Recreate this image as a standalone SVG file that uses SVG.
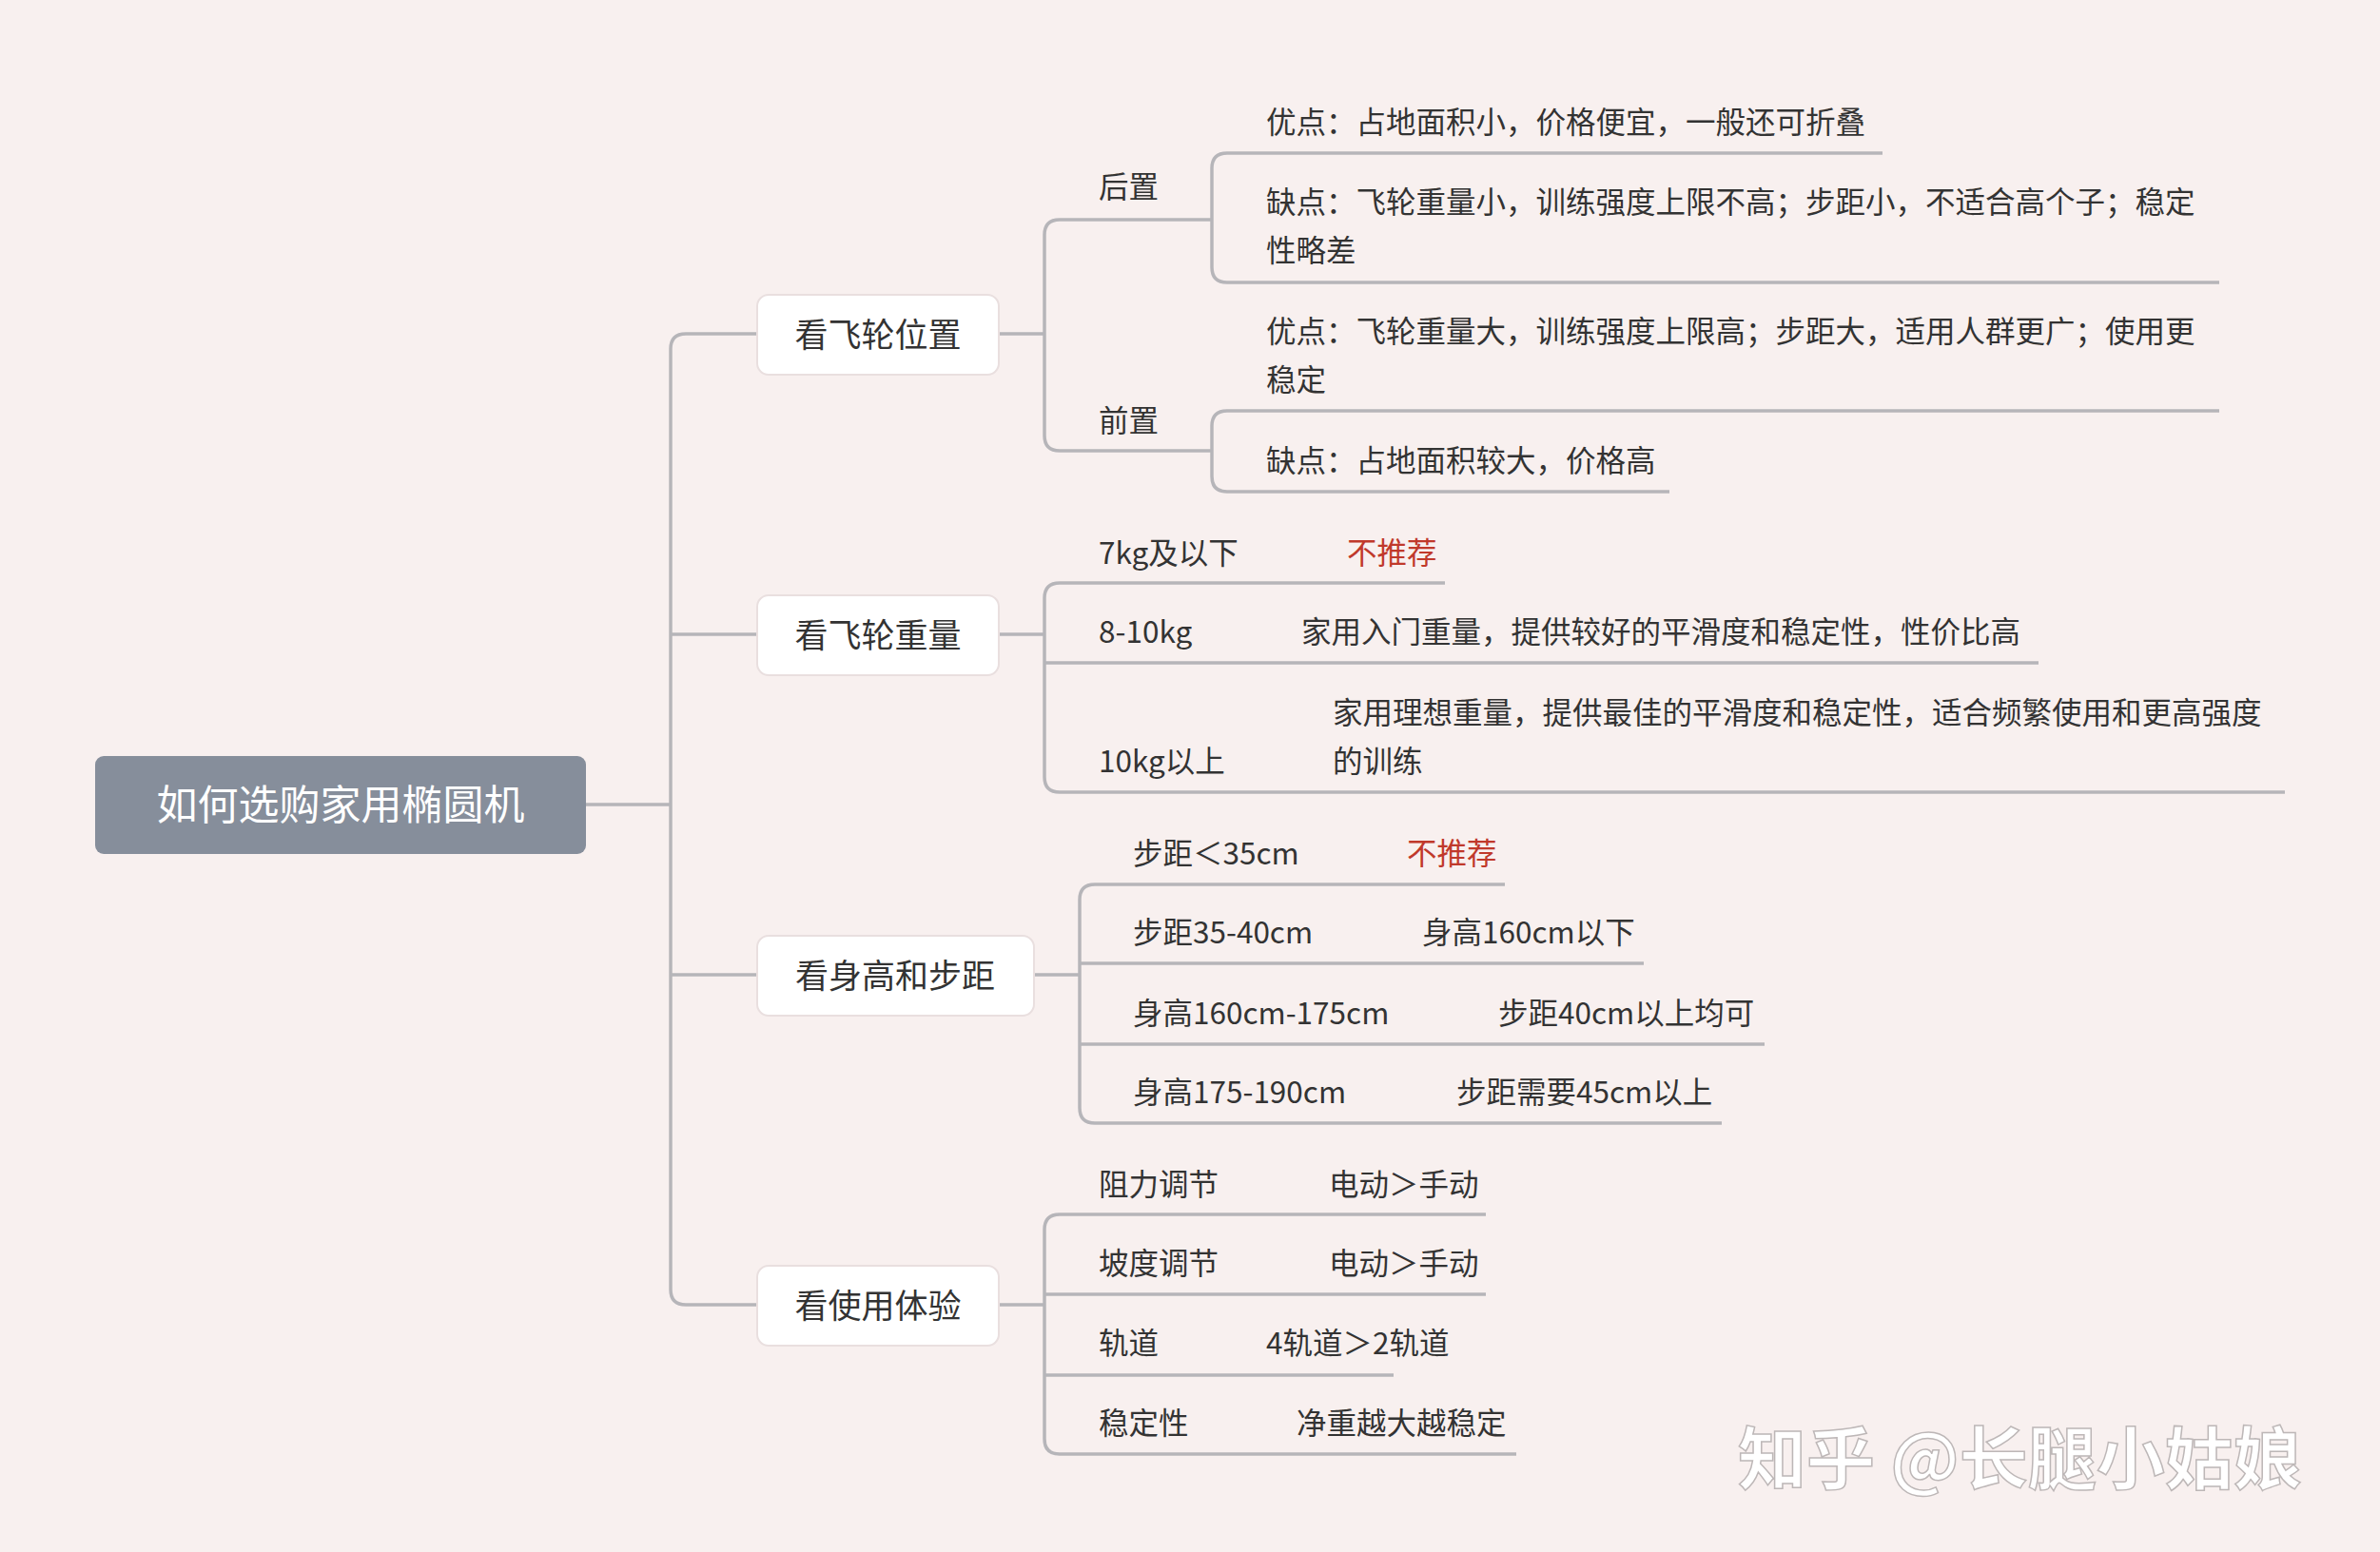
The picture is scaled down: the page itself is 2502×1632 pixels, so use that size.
<svg xmlns="http://www.w3.org/2000/svg" width="2502" height="1632" viewBox="0 0 2502 1632">
<style>
text{font-family:"Noto Sans CJK SC","Noto Sans",sans-serif;fill:#333;dominant-baseline:central}
.t{font-size:31.5px}
.l1{font-size:35px}
.red{fill:#c0392b}
.c{fill:none;stroke:#b6b5b9;stroke-width:3.5}
.box{fill:#fff;stroke:#e9dfdf;stroke-width:2}
</style>
<rect width="2502" height="1632" fill="#f8f0ef"/>
<g id="connectors" class="c">
<path d="M616 846H705"/>
<path d="M796 351H721Q705 351 705 367V1356Q705 1372 721 1372H796"/>
<path d="M705 667H796M705 1025H796"/>
<path d="M1050 351H1098"/>
<path d="M1274 231H1114Q1098 231 1098 247V458Q1098 474 1114 474H1274"/>
<path d="M1979 161H1290Q1274 161 1274 177V281Q1274 297 1290 297H2333"/>
<path d="M2333 432H1290Q1274 432 1274 448V501Q1274 517 1290 517H1755"/>
<path d="M1050 667H1098"/>
<path d="M1519 613H1114Q1098 613 1098 629V817Q1098 833 1114 833H2402"/>
<path d="M1098 697H2143"/>
<path d="M1087 1025H1135"/>
<path d="M1582 930H1151Q1135 930 1135 946V1165Q1135 1181 1151 1181H1810"/>
<path d="M1135 1013H1728M1135 1098H1855"/>
<path d="M1050 1372H1098"/>
<path d="M1562 1277H1114Q1098 1277 1098 1293V1513Q1098 1529 1114 1529H1594"/>
<path d="M1098 1361H1562M1098 1446H1465"/>
</g>
<g id="root"><rect x="100" y="795" width="516" height="103" rx="9" fill="#868e9b"/><text x="358" y="843" text-anchor="middle" style="font-size:43px;fill:#fff">如何选购家用椭圆机</text></g>
<g id="n1"><rect x="796" y="310" width="254" height="84" rx="12" class="box"/><text class="l1" x="923" y="349" text-anchor="middle">看飞轮位置</text></g>
<g id="n2"><rect x="796" y="626" width="254" height="84" rx="12" class="box"/><text class="l1" x="923" y="665" text-anchor="middle">看飞轮重量</text></g>
<g id="n3"><rect x="796" y="984" width="291" height="84" rx="12" class="box"/><text class="l1" x="941" y="1023" text-anchor="middle">看身高和步距</text></g>
<g id="n4"><rect x="796" y="1331" width="254" height="84" rx="12" class="box"/><text class="l1" x="923" y="1370" text-anchor="middle">看使用体验</text></g>
<g id="n1a"><text class="t" x="1155" y="194">后置</text></g>
<g id="n1a1"><text class="t" x="1331" y="126">优点：占地面积小，价格便宜，一般还可折叠</text></g>
<g id="n1a2"><text class="t" x="1331" y="210">缺点：飞轮重量小，训练强度上限不高；步距小，不适合高个子；稳定</text><text class="t" x="1331" y="261">性略差</text></g>
<g id="n1b"><text class="t" x="1155" y="440">前置</text></g>
<g id="n1b1"><text class="t" x="1331" y="346">优点：飞轮重量大，训练强度上限高；步距大，适用人群更广；使用更</text><text class="t" x="1331" y="397">稳定</text></g>
<g id="n1b2"><text class="t" x="1331" y="482">缺点：占地面积较大，价格高</text></g>
<g id="n2a"><text class="t" x="1155" y="579">7kg及以下</text><text class="t red" x="1416" y="579">不推荐</text></g>
<g id="n2b"><text class="t" x="1155" y="662">8-10kg</text><text class="t" x="1368" y="662">家用入门重量，提供较好的平滑度和稳定性，性价比高</text></g>
<g id="n2c"><text class="t" x="1155" y="798">10kg以上</text><text class="t" x="1401" y="747">家用理想重量，提供最佳的平滑度和稳定性，适合频繁使用和更高强度</text><text class="t" x="1401" y="798">的训练</text></g>
<g id="n3a"><text class="t" x="1191" y="895">步距＜35cm</text><text class="t red" x="1479" y="895">不推荐</text></g>
<g id="n3b"><text class="t" x="1191" y="978">步距35-40cm</text><text class="t" x="1495" y="978">身高160cm以下</text></g>
<g id="n3c"><text class="t" x="1191" y="1063">身高160cm-175cm</text><text class="t" x="1575" y="1063">步距40cm以上均可</text></g>
<g id="n3d"><text class="t" x="1191" y="1146">身高175-190cm</text><text class="t" x="1531" y="1146">步距需要45cm以上</text></g>
<g id="n4a"><text class="t" x="1155" y="1243">阻力调节</text><text class="t" x="1397" y="1243">电动＞手动</text></g>
<g id="n4b"><text class="t" x="1155" y="1326">坡度调节</text><text class="t" x="1397" y="1326">电动＞手动</text></g>
<g id="n4c"><text class="t" x="1155" y="1410">轨道</text><text class="t" x="1331" y="1410">4轨道＞2轨道</text></g>
<g id="n4d"><text class="t" x="1155" y="1494">稳定性</text><text class="t" x="1363" y="1494">净重越大越稳定</text></g>
<text x="1827" y="1528" style="font-size:72px;font-weight:bold;fill:#fff;stroke:#bdb7b7;stroke-width:1.5">知乎 @长腿小姑娘</text>
</svg>
